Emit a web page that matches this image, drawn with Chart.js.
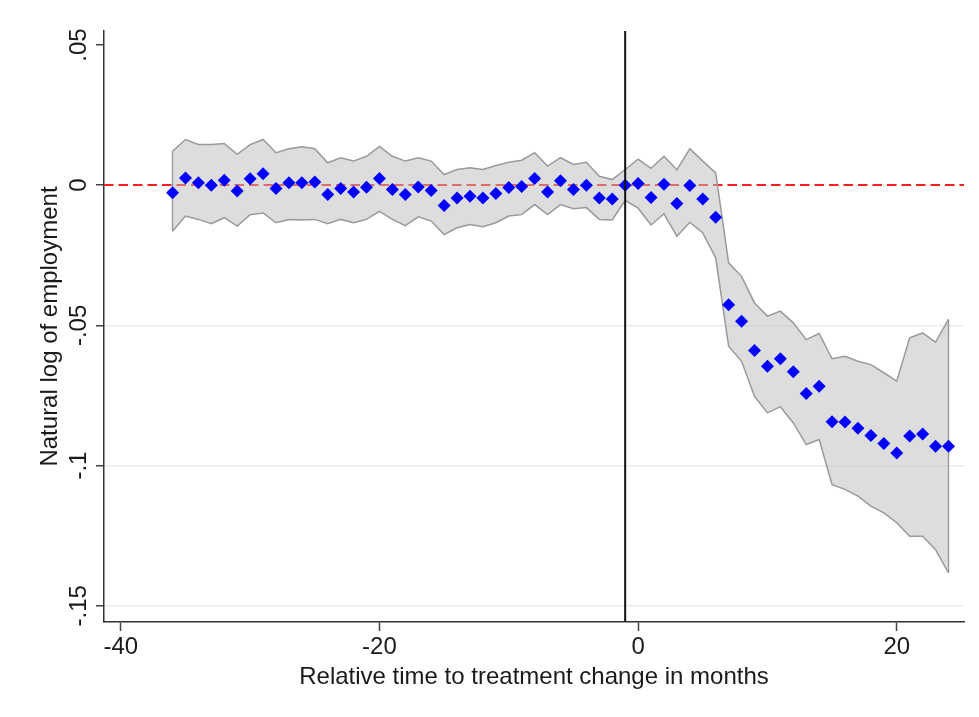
<!DOCTYPE html>
<html>
<head>
<meta charset="utf-8">
<script src="https://cdn.jsdelivr.net/npm/chart.js@4.4.0/dist/chart.umd.min.js"></script>
<style>
  html, body { margin: 0; padding: 0; background: #fff; }
  #wrap { width: 979px; height: 717px; position: relative; }
</style>
</head>
<body>
<div id="wrap"><canvas id="chart"></canvas></div>
<script>
// Event-study estimates: months relative to the treatment change
const months = [-36, -35, -34, -33, -32, -31, -30, -29, -28, -27, -26, -25, -24, -23, -22, -21,
  -20, -19, -18, -17, -16, -15, -14, -13, -12, -11, -10, -9, -8, -7, -6, -5, -4, -3, -2, -1,
  0, 1, 2, 3, 4, 5, 6, 7, 8, 9, 10, 11, 12, 13, 14, 15, 16, 17, 18, 19, 20, 21, 22, 23, 24];

const coef = [-0.0027, 0.0026, 0.0009, 0.0000, 0.0018, -0.0021, 0.0023, 0.0041, -0.0012, 0.0009,
  0.0009, 0.0011, -0.0033, -0.0012, -0.0024, -0.0007, 0.0024, -0.0015, -0.0033, -0.0006,
  -0.0019, -0.0072, -0.0046, -0.0039, -0.0046, -0.0030, -0.0008, -0.0005, 0.0024, -0.0024,
  0.0016, -0.0015, 0.0000, -0.0046, -0.0049, 0.0000, 0.0006, -0.0044, 0.0003, -0.0065,
  -0.0001, -0.0049, -0.0114, -0.0426, -0.0485, -0.0590, -0.0646, -0.0619, -0.0665, -0.0743,
  -0.0717, -0.0844, -0.0845, -0.0867, -0.0893, -0.0921, -0.0955, -0.0895, -0.0887, -0.0931,
  -0.0931];

// 95% confidence band
const ciUpper = [0.0121, 0.0163, 0.0145, 0.0145, 0.0149, 0.0110, 0.0145, 0.0163, 0.0116, 0.0130,
  0.0137, 0.0130, 0.0080, 0.0098, 0.0086, 0.0103, 0.0138, 0.0103, 0.0086, 0.0098,
  0.0086, 0.0038, 0.0056, 0.0062, 0.0056, 0.0070, 0.0082, 0.0089, 0.0116, 0.0068,
  0.0098, 0.0074, 0.0082, 0.0032, 0.0020, 0.0056, 0.0093, 0.0060, 0.0103, 0.0055,
  0.0130, 0.0086, 0.0044, -0.0277, -0.0325, -0.0420, -0.0467, -0.0449, -0.0491, -0.0551,
  -0.0529, -0.0619, -0.0610, -0.0628, -0.0640, -0.0669, -0.0699, -0.0544, -0.0527, -0.0560,
  -0.0479];

const ciLower = [-0.0164, -0.0110, -0.0122, -0.0137, -0.0116, -0.0146, -0.0105, -0.0099, -0.0134, -0.0122,
  -0.0124, -0.0122, -0.0137, -0.0122, -0.0134, -0.0122, -0.0093, -0.0122, -0.0144, -0.0113,
  -0.0128, -0.0176, -0.0152, -0.0140, -0.0148, -0.0134, -0.0110, -0.0105, -0.0069, -0.0105,
  -0.0069, -0.0084, -0.0080, -0.0122, -0.0124, -0.0054, -0.0082, -0.0142, -0.0102, -0.0182,
  -0.0132, -0.0170, -0.0259, -0.0574, -0.0628, -0.0753, -0.0812, -0.0790, -0.0848, -0.0925,
  -0.0907, -0.1068, -0.1085, -0.1109, -0.1145, -0.1169, -0.1204, -0.1252, -0.1252, -0.1300,
  -0.1383];

const xTicks = [-40, -20, 0, 20];
const yTicks = [0.05, 0, -0.05, -0.1, -0.15];
const yTickLabels = [".05", "0", "-.05", "-.1", "-.15"];

const treatMonth = -1;   // vertical marker
const refLevel = 0;      // dashed zero line

const xTitle = "Relative time to treatment change in months";
const yTitle = "Natural log of employment";

const FONT = '"Liberation Sans", Arial, sans-serif';
const TEXT = "#1a1a1a";

const pts = (ys) => months.map((m, i) => ({ x: m, y: ys[i] }));
const last = months.length - 1;

// zero line under the band, event line and rotated labels on top
const decor = {
  id: "decor",
  beforeDatasetsDraw(chart) {
    const { ctx, chartArea, scales } = chart;
    const y0 = Math.round(scales.y.getPixelForValue(refLevel));
    ctx.save();
    ctx.strokeStyle = "#ff1f1f";
    ctx.lineWidth = 2;
    ctx.setLineDash([9.5, 5]);
    ctx.beginPath();
    ctx.moveTo(chartArea.left, y0);
    ctx.lineTo(chartArea.right, y0);
    ctx.stroke();
    ctx.restore();
  },
  afterDatasetsDraw(chart) {
    const { ctx, chartArea, scales } = chart;
    const xv = scales.x.getPixelForValue(treatMonth);
    ctx.save();
    ctx.strokeStyle = "#111";
    ctx.lineWidth = 2;
    ctx.beginPath();
    ctx.moveTo(xv, chartArea.top);
    ctx.lineTo(xv, chartArea.bottom);
    ctx.stroke();
    ctx.restore();
  },
  afterDraw(chart) {
    const { ctx, chartArea, scales } = chart;
    ctx.save();
    ctx.fillStyle = TEXT;
    ctx.font = "24px " + FONT;
    ctx.textAlign = "center";
    ctx.textBaseline = "middle";
    // y tick labels, rotated like the axis title
    yTicks.forEach((v, i) => {
      const py = scales.y.getPixelForValue(v);
      ctx.save();
      ctx.translate(79, py);
      ctx.rotate(-Math.PI / 2);
      ctx.fillText(yTickLabels[i], 0, 0);
      ctx.restore();
    });
    // axis titles
    ctx.save();
    ctx.translate(50, (chartArea.top + chartArea.bottom) / 2);
    ctx.rotate(-Math.PI / 2);
    ctx.fillText(yTitle, 0, 0);
    ctx.restore();
    ctx.fillText(xTitle, (chartArea.left + chartArea.right) / 2, 677);
    ctx.restore();
  }
};

new Chart(document.getElementById("chart"), {
  type: "line",
  data: {
    datasets: [
      {
        label: "estimate",
        data: pts(coef),
        showLine: false,
        pointStyle: "rectRot",
        pointRadius: 6.5,
        pointBackgroundColor: "#0000ff",
        pointBorderWidth: 0,
      },
      {
        label: "lower",
        data: pts(ciLower),
        borderColor: "#9a9a9a",
        borderWidth: 1.5,
        pointRadius: 0,
        tension: 0,
        fill: false,
      },
      {
        label: "upper",
        data: pts(ciUpper),
        borderColor: "#9a9a9a",
        borderWidth: 1.5,
        pointRadius: 0,
        tension: 0,
        fill: "-1",
        backgroundColor: "rgba(188,188,188,0.5)",
      },
      {
        label: "band start",
        data: [{ x: months[0], y: ciLower[0] }, { x: months[0], y: ciUpper[0] }],
        borderColor: "#9a9a9a",
        borderWidth: 1.5,
        pointRadius: 0,
      },
      {
        label: "band end",
        data: [{ x: months[last], y: ciLower[last] }, { x: months[last], y: ciUpper[last] }],
        borderColor: "#9a9a9a",
        borderWidth: 1.5,
        pointRadius: 0,
      },
    ],
  },
  options: {
    responsive: true,
    maintainAspectRatio: false,
    animation: false,
    layout: { padding: { left: 0, top: 31, right: 15, bottom: 0 } },
    plugins: { legend: { display: false }, tooltip: { enabled: false } },
    scales: {
      x: {
        type: "linear",
        min: -41.3,
        max: 25.2,
        afterBuildTicks: (s) => { s.ticks = xTicks.map((v) => ({ value: v })); },
        afterFit: (s) => { s.height = 95; },
        ticks: { font: { family: FONT, size: 24 }, color: TEXT, padding: 2 },
        grid: { drawOnChartArea: false, drawTicks: true, tickLength: 9, tickColor: "#444", tickWidth: 1.5 },
        border: { color: "#333", width: 1.5 },
      },
      y: {
        type: "linear",
        min: -0.1558,
        max: 0.055,
        afterBuildTicks: (s) => { s.ticks = yTicks.map((v) => ({ value: v })); },
        afterFit: (s) => { s.width = 104; },
        ticks: { display: false },
        grid: {
          color: (c) => (c.tick && c.tick.value < -0.01 ? "#e4eef0" : "rgba(0,0,0,0)"),
          lineWidth: 1.5,
          drawTicks: true,
          tickLength: 8,
          tickColor: "#444",
          tickWidth: 1.5,
        },
        border: { color: "#333", width: 1.5 },
      },
    },
  },
  plugins: [decor],
});
</script>
</body>
</html>
